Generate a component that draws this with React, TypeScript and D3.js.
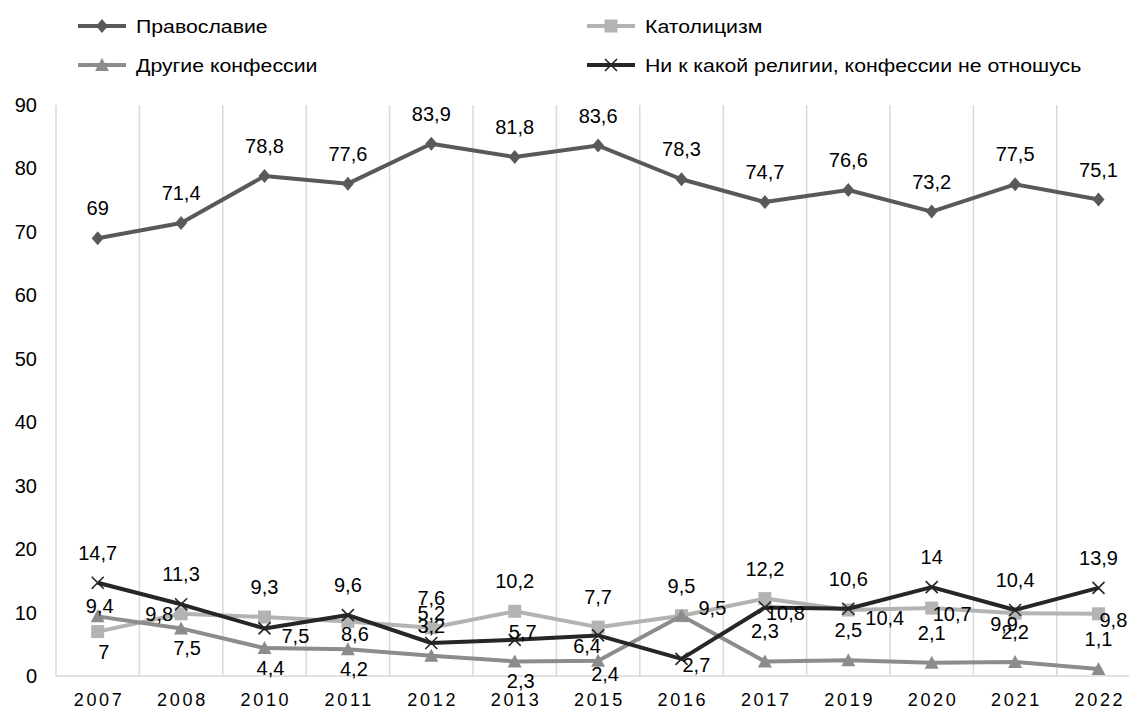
import * as d3 from 'd3'

const years = ['2007', '2008', '2010', '2011', '2012', '2013', '2015', '2016', '2017', '2019', '2020', '2021', '2022']
const orthodoxy = [69, 71.4, 78.8, 77.6, 83.9, 81.8, 83.6, 78.3, 74.7, 76.6, 73.2, 77.5, 75.1]
const catholicism = [7, 9.8, 9.3, 8.6, 7.6, 10.2, 7.7, 9.5, 12.2, 10.4, 10.7, 9.9, 9.8]
const otherFaiths = [9.4, 7.5, 4.4, 4.2, 3.2, 2.3, 2.4, 9.5, 2.3, 2.5, 2.1, 2.2, 1.1]
const noReligion = [14.7, 11.3, 7.5, 9.6, 5.2, 5.7, 6.4, 2.7, 10.8, 10.6, 14, 10.4, 13.9]
const yTicks = [0, 10, 20, 30, 40, 50, 60, 70, 80, 90]

// where each data label sits relative to its point
const orthodoxyLabelAt = years.map(() => 't')
const catholicismLabelAt = ['b', 'l', 't', 'bs', 't', 't', 't', 't', 't', 'rb', 'nr', 'bl', 'nr']
const otherLabelAt = ['c', 'b', 'b', 'b', 't', 'b', 'bs', 'rt', 't', 't', 't', 't', 't']
const noneLabelAt = ['t', 't', 'rb', 't', 't', 'tr', 'bl', 'nr', 'nr', 't', 't', 't', 't']

const series = [
	{ name: 'Православие', values: orthodoxy, labels: orthodoxyLabelAt, color: '#595959', marker: 'diamond' },
	{ name: 'Католицизм', values: catholicism, labels: catholicismLabelAt, color: '#b3b3b3', marker: 'square' },
	{ name: 'Другие конфессии', values: otherFaiths, labels: otherLabelAt, color: '#8c8c8c', marker: 'triangle' },
	{ name: 'Ни к какой религии, конфессии не отношусь', values: noReligion, labels: noneLabelAt, color: '#262626', marker: 'cross' },
]

// draw order: lighter lines underneath
const drawOrder = [1, 2, 3, 0]

const placement = {
	t: { dx: 0, dy: -30, anchor: 'middle' },
	b: { dx: 6, dy: 20, anchor: 'middle' },
	bs: { dx: 7, dy: 13, anchor: 'middle' },
	c: { dx: 2, dy: -10, anchor: 'middle' },
	l: { dx: -8, dy: 0, anchor: 'end' },
	rb: { dx: 17, dy: 8, anchor: 'start' },
	rt: { dx: 17, dy: -8, anchor: 'start' },
	nr: { dx: 1, dy: 6, anchor: 'start' },
	bl: { dx: -11, dy: 11, anchor: 'middle' },
	tr: { dx: 8, dy: -8, anchor: 'middle' },
}

const FONT = '"Liberation Sans", Arial, sans-serif'

function Marker({ type, x, y, color }) {
	if (type === 'diamond') {
		return <path d={`M${x},${y - 7}L${x + 6},${y}L${x},${y + 7}L${x - 6},${y}Z`} fill={color} />
	}
	if (type === 'square') {
		return <rect x={x - 6.5} y={y - 6.5} width={13} height={13} fill={color} />
	}
	if (type === 'triangle') {
		return <path d={`M${x},${y - 7}L${x + 7},${y + 6}L${x - 7},${y + 6}Z`} fill={color} />
	}
	return (
		<path
			d={`M${x - 6},${y - 6}L${x + 6},${y + 6}M${x - 6},${y + 6}L${x + 6},${y - 6}`}
			stroke={color}
			strokeWidth={1.6}
			fill="none"
		/>
	)
}

export default function App() {
	const width = 1129
	const height = 709

	const x = d3.scaleBand().domain(years).range([56, 56 + 83.4 * years.length]).padding(0)
	const cx = (yr) => x(yr) + x.bandwidth() / 2
	const y = d3.scaleLinear().domain([0, 90]).range([676, 105])

	const line = d3
		.line()
		.x((d, i) => cx(years[i]))
		.y((d) => y(d))

	const fmt = (v) => String(v).replace('.', ',')

	const legendItems = [
		{ s: series[0], lx: 78, ly: 26 },
		{ s: series[1], lx: 587, ly: 26 },
		{ s: series[2], lx: 78, ly: 65 },
		{ s: series[3], lx: 587, ly: 65 },
	]

	return (
		<svg
			width={width}
			height={height}
			style={{ position: 'absolute', left: 0, top: 0, background: '#fff' }}
			fontFamily={FONT}
		>
			{/* vertical gridlines on category boundaries */}
			{years.map((yr) => (
				<line key={yr} x1={x(yr)} x2={x(yr)} y1={y(90)} y2={y(0)} stroke="#d9d9d9" strokeWidth={1.5} />
			))}
			<line x1={x(years[0])} x2={width} y1={y(0)} y2={y(0)} stroke="#d9d9d9" strokeWidth={1.5} />

			{yTicks.map((t) => (
				<text key={t} x={37} y={y(t) + 7} textAnchor="end" fontSize={20} fill="#000">
					{t}
				</text>
			))}

			{years.map((yr) => (
				<text
					key={yr}
					x={cx(yr) + 1.4}
					y={699 + 6.5}
					textAnchor="middle"
					fontSize={18}
					letterSpacing={2.7}
					fill="#000"
				>
					{yr}
				</text>
			))}

			{drawOrder.map((k) => {
				const s = series[k]
				return (
					<g key={s.name}>
						<path d={line(s.values)} fill="none" stroke={s.color} strokeWidth={4} strokeLinejoin="round" />
						{s.values.map((v, i) => (
							<Marker key={i} type={s.marker} x={cx(years[i])} y={y(v)} color={s.color} />
						))}
					</g>
				)
			})}

			{drawOrder.map((k) => {
				const s = series[k]
				return (
					<g key={s.name + '-labels'}>
						{s.values.map((v, i) => {
							const p = placement[s.labels[i]]
							return (
								<text
									key={i}
									x={cx(years[i]) + p.dx}
									y={y(v) + p.dy + 7}
									textAnchor={p.anchor}
									fontSize={20}
									fill="#000"
								>
									{fmt(v)}
								</text>
							)
						})}
					</g>
				)
			})}

			{legendItems.map(({ s, lx, ly }) => (
				<g key={s.name + '-legend'}>
					<line x1={lx} x2={lx + 48} y1={ly} y2={ly} stroke={s.color} strokeWidth={4} />
					<Marker type={s.marker} x={lx + 24} y={ly} color={s.color} />
					<text transform={`translate(${lx + 58},${ly + 6.7}) scale(1.15,1)`} fontSize={18.5} fill="#000">
						{s.name}
					</text>
				</g>
			))}
		</svg>
	)
}
